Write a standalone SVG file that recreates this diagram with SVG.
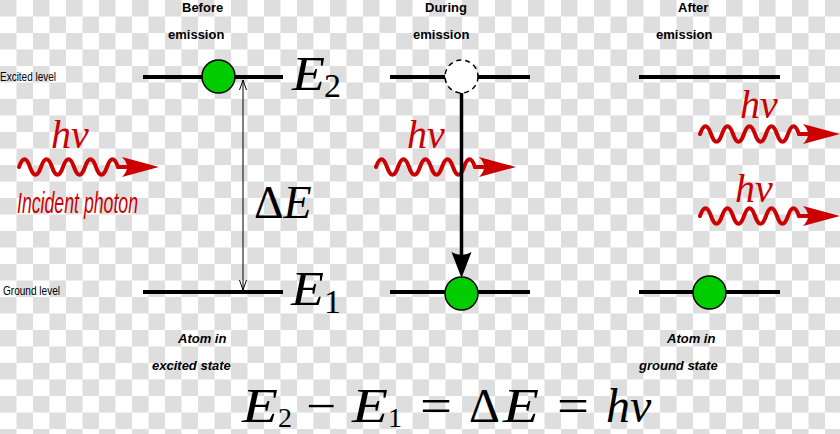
<svg xmlns="http://www.w3.org/2000/svg" xmlns:xlink="http://www.w3.org/1999/xlink" width="840" height="434" viewBox="0 0 840 434">
<defs>
<pattern id="checker" x="0" y="0" width="33" height="33" patternUnits="userSpaceOnUse">
<rect width="33" height="33" fill="#ffffff"/>
<rect x="0" y="0" width="16.5" height="16.5" fill="#dedede"/>
<rect x="16.5" y="16.5" width="16.5" height="16.5" fill="#dedede"/>
</pattern>
<g id="photon">
<path d="M0,0 q5.5,-15.5 11,0 t11,0 t11,0 t11,0 t11,0 t11,0 t11,0 t11,0 t11,0 L112,0" fill="none" stroke="#cc0000" stroke-width="4" stroke-linecap="round"/>
<path d="M140,0 L103,-10 Q113,0 103,10 Z" fill="#cc0000"/>
</g>
<marker id="thinhead" viewBox="0 0 10 10" refX="10" refY="5" markerWidth="10" markerHeight="10" markerUnits="userSpaceOnUse" orient="auto-start-reverse">
<path d="M0,1.5 L10,5 L0,8.5" fill="none" stroke="#000" stroke-width="1"/>
</marker>
</defs>
<style>
.lvl{stroke:#000;stroke-width:4;fill:none}
.atom{fill:#00cc00;stroke:#000;stroke-width:1.5}
.head{font-family:"Liberation Sans",Arial,sans-serif;font-weight:bold;font-size:13px;fill:#000}
.cap{font-family:"Liberation Sans",Arial,sans-serif;font-weight:bold;font-style:italic;font-size:13px;fill:#000}
.side{font-family:"Liberation Sans",Arial,sans-serif;font-size:12px;fill:#000}
.math{font-family:"Liberation Serif","Times New Roman",serif;fill:#000}
.it{font-style:italic}
.red{fill:#cc0000}
</style>
<rect width="840" height="434" fill="url(#checker)"/>

<g id="side-labels">
<text class="side" x="0" y="81" textLength="56" lengthAdjust="spacingAndGlyphs">Excited level</text>
<text class="side" x="3" y="295" textLength="57" lengthAdjust="spacingAndGlyphs">Ground level</text>
</g>

<g id="incident-photon">
<use xlink:href="#photon" href="#photon" transform="translate(19,167)"/>
<text class="math it red" x="51" y="148" font-size="40">hν</text>
<text x="17" y="213" font-family="'Liberation Sans Narrow','Liberation Sans',Arial,sans-serif" font-style="italic" font-size="30" fill="#cc0000" textLength="121" lengthAdjust="spacingAndGlyphs">Incident photon</text>
</g>

<g id="before">
<text class="head" x="182" y="12">Before</text>
<text class="head" x="168" y="39">emission</text>
<line class="lvl" x1="143" y1="77" x2="283" y2="77"/>
<line class="lvl" x1="143" y1="292" x2="283" y2="292"/>
<circle class="atom" cx="218.5" cy="76.5" r="16.5"/>
<text class="math it" x="292" y="90" font-size="48" textLength="33" lengthAdjust="spacingAndGlyphs">E</text>
<text class="math" x="324" y="97" font-size="34">2</text>
<text class="math it" x="291" y="305" font-size="48" textLength="33" lengthAdjust="spacingAndGlyphs">E</text>
<text class="math" x="324" y="313" font-size="34">1</text>
<text class="math" x="254" y="218" font-size="46">Δ<tspan class="it">E</tspan></text>
<text class="cap" x="178" y="343">Atom in</text>
<text class="cap" x="152" y="370">excited state</text>
</g>

<g id="during">
<text class="head" x="425" y="12">During</text>
<text class="head" x="413" y="39">emission</text>
<use xlink:href="#photon" href="#photon" transform="translate(376,167)"/>
<text class="math it red" x="407" y="148" font-size="40">hν</text>
<line class="lvl" x1="390" y1="77" x2="530" y2="77"/>
<line class="lvl" x1="390" y1="292" x2="530" y2="292"/>
<circle cx="461.5" cy="76.5" r="16.5" fill="#ffffff" stroke="#000" stroke-width="1.5" stroke-dasharray="5,4"/>
<circle class="atom" cx="461.5" cy="293.5" r="16.5"/>
</g>

<g id="after">
<text class="head" x="678" y="12">After</text>
<text class="head" x="656" y="39">emission</text>
<line class="lvl" x1="639" y1="77" x2="780" y2="77"/>
<line class="lvl" x1="639" y1="292" x2="780" y2="292"/>
<circle class="atom" cx="709.5" cy="292.5" r="16.5"/>
<use xlink:href="#photon" href="#photon" transform="translate(700,134)"/>
<text class="math it red" x="740" y="118" font-size="40">hν</text>
<use xlink:href="#photon" href="#photon" transform="translate(700,216)"/>
<text class="math it red" x="735" y="202" font-size="40">hν</text>
<text class="cap" x="667" y="343">Atom in</text>
<text class="cap" x="639" y="370">ground state</text>
</g>

<g id="connectors">
<line x1="243" y1="80" x2="243" y2="290" stroke="#000" stroke-width="1" marker-start="url(#thinhead)" marker-end="url(#thinhead)"/>
<line x1="461.5" y1="93" x2="461.5" y2="262" stroke="#000" stroke-width="3.5"/>
<path d="M461.5,278 L451.5,252 Q461.5,258 471.5,252 Z" fill="#000"/>
</g>

<g id="equation" class="math" font-size="48">
<text class="it" x="242" y="422" textLength="36" lengthAdjust="spacingAndGlyphs">E</text>
<text x="278" y="427" font-size="28">2</text>
<text x="306" y="422" textLength="30" lengthAdjust="spacingAndGlyphs">−</text>
<text class="it" x="352" y="422" textLength="36" lengthAdjust="spacingAndGlyphs">E</text>
<text x="388" y="427" font-size="28">1</text>
<text x="420" y="422" textLength="32" lengthAdjust="spacingAndGlyphs">=</text>
<text x="469" y="422">Δ</text>
<text class="it" x="503" y="422" textLength="36" lengthAdjust="spacingAndGlyphs">E</text>
<text x="557" y="422" textLength="32" lengthAdjust="spacingAndGlyphs">=</text>
<text class="it" x="606" y="422">hν</text>
</g>
</svg>
